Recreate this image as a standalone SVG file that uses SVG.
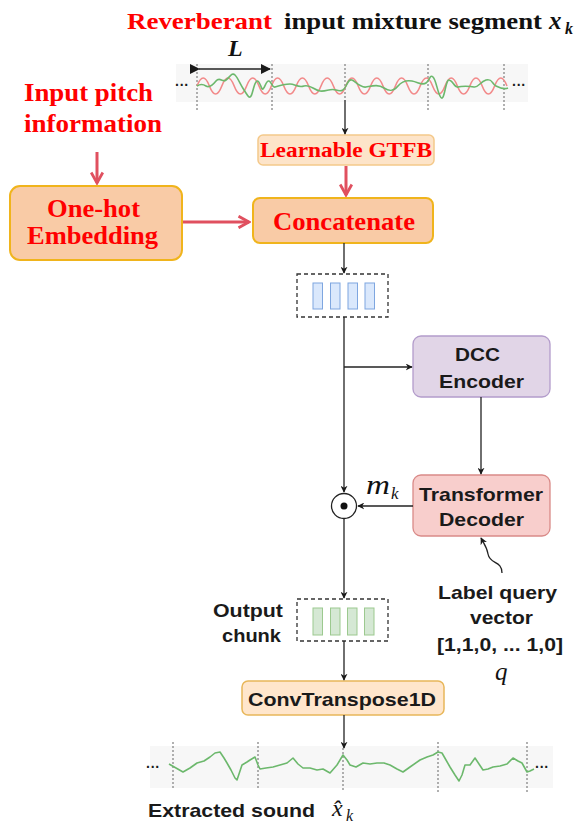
<svg xmlns="http://www.w3.org/2000/svg" width="577" height="823" viewBox="0 0 577 823">
<defs>
<marker id="ah" viewBox="0 0 10 10" refX="9" refY="5" markerWidth="7" markerHeight="7" orient="auto" markerUnits="userSpaceOnUse">
<path d="M0,0 L10,5 L0,10 L3,5 Z" fill="#1a1a1a"/>
</marker>
<marker id="ahr" viewBox="0 0 12 12" refX="10" refY="6" markerWidth="14" markerHeight="14" orient="auto" markerUnits="userSpaceOnUse">
<path d="M1,1 L10,6 L1,11" fill="none" stroke="#e0505f" stroke-width="2.4" stroke-linejoin="miter"/>
</marker>
<marker id="ahd" viewBox="0 0 10 10" refX="9" refY="5" markerWidth="10" markerHeight="10" orient="auto" markerUnits="userSpaceOnUse">
<path d="M0,0 L10,5 L0,10 Z" fill="#1a1a1a"/>
</marker>
</defs>
<style>
.serifR{font-family:"Liberation Serif","Times New Roman",serif;font-weight:bold;fill:#ff0000}
.serifK{font-family:"Liberation Serif","Times New Roman",serif;font-weight:bold;fill:#111}
.sans{font-family:"Liberation Sans",Arial,sans-serif;font-weight:bold;fill:#1a1a1a}
.math{font-family:"Liberation Serif","Times New Roman",serif;font-style:italic;fill:#111}
.ln{stroke:#222;stroke-width:1.3;fill:none}
.red{stroke:#e0505f;stroke-width:3;fill:none}
.dot{stroke:#888;stroke-width:1.3;stroke-dasharray:2,2;fill:none}
.orange{fill:#f9cba6;stroke:#f0b41c;stroke-width:2}
.band{fill:#f7f7f7}
</style>

<g id="title">
<text x="127" y="29" font-size="24" class="serifR" textLength="145" lengthAdjust="spacingAndGlyphs">Reverberant</text>
<text x="284" y="29" font-size="24" class="serifK" textLength="258" lengthAdjust="spacingAndGlyphs">input mixture segment</text>
<text x="549" y="29" font-size="25" class="math" font-weight="bold">x</text>
<text x="565" y="34" font-size="16" class="math" font-weight="bold">k</text>
</g>

<g id="input-wave">
<rect class="band" x="176" y="64" width="352" height="38"/>
<text x="175" y="90" font-size="14" class="sans" fill="#333">···</text>
<text x="512" y="90" font-size="14" class="sans" fill="#333">···</text>
<line class="dot" x1="197" y1="64" x2="197" y2="110"/>
<line class="dot" x1="272" y1="64" x2="272" y2="110"/>
<line class="dot" x1="345" y1="64" x2="345" y2="100"/>
<line class="dot" x1="428" y1="64" x2="428" y2="110"/>
<line class="dot" x1="504" y1="64" x2="504" y2="110"/>
<path d="M197,86 q6.2,-16 12.4,0 t12.4,0 t12.4,0 t12.4,0 t12.4,0 t12.4,0 t12.4,0 t12.4,0 t12.4,0 t12.4,0 t12.4,0 t12.4,0 t12.4,0 t12.4,0 t12.4,0 t12.4,0 t12.4,0 t12.4,0 t12.4,0 t12.4,0 t12.4,0 t12.4,0 t12.4,0 t12.4,0 t12.4,0" fill="none" stroke="#f28a8a" stroke-width="1.6"/>
<path d="M197,86 C200,84 203,84 206,86 S212,86 216,81 S222,83 226,80 S232,72 235,75 S240,84 244,90 S249,99 251,96 S254,82 257,81 S261,90 263,89 S266,80 269,81 S272,88 275,87 S285,84 290,84 S298,88 304,86 S314,90 320,91 S330,88 336,90 S344,90 346,86 S349,79 352,80 S360,88 366,87 S378,84 384,88 S394,91 398,86 S406,80 412,81 S422,86 426,83 S430,74 433,77 S437,90 440,96 S444,94 446,86 S449,80 451,81 S455,88 458,87 S470,86 474,87 S480,82 486,80 S492,84 496,86 S504,90 508,88" fill="none" stroke="#6cb86c" stroke-width="1.6"/>
</g>

<g id="L-label">
<text x="228" y="56" font-size="24" class="math" font-weight="bold">L</text>
<line x1="199" y1="69" x2="270" y2="69" stroke="#222" stroke-width="1.3" marker-start="url(#ahd)" marker-end="url(#ahd)"/>
</g>

<g id="pitch-label">
<text x="24" y="101" font-size="25" class="serifR" textLength="129" lengthAdjust="spacingAndGlyphs">Input pitch</text>
<text x="24" y="132" font-size="25" class="serifR" textLength="138" lengthAdjust="spacingAndGlyphs">information</text>
</g>

<g id="gtfb">
<rect x="258" y="135" width="176" height="30" rx="5" fill="#fde4c9" stroke="#f4c98a" stroke-width="1.5"/>
<text x="260" y="157" font-size="21" class="serifR" textLength="172" lengthAdjust="spacingAndGlyphs">Learnable GTFB</text>
</g>

<g id="onehot">
<rect class="orange" x="10" y="186" width="172" height="74" rx="10"/>
<text x="47" y="217" font-size="26" class="serifR" textLength="93" lengthAdjust="spacingAndGlyphs">One-hot</text>
<text x="27" y="244" font-size="26" class="serifR" textLength="131" lengthAdjust="spacingAndGlyphs">Embedding</text>
</g>

<g id="concat">
<rect class="orange" x="253" y="198" width="180" height="45" rx="7"/>
<text x="273" y="230" font-size="26" class="serifR" textLength="142" lengthAdjust="spacingAndGlyphs">Concatenate</text>
</g>

<g id="input-chunk">
<rect x="297" y="274" width="91" height="43" fill="none" stroke="#333" stroke-width="1.3" stroke-dasharray="4,3"/>
<rect x="313" y="283" width="9.5" height="26" fill="#dae8fc" stroke="#7ea6e0"/>
<rect x="330.5" y="283" width="9.5" height="26" fill="#dae8fc" stroke="#7ea6e0"/>
<rect x="348" y="283" width="9.5" height="26" fill="#dae8fc" stroke="#7ea6e0"/>
<rect x="365" y="283" width="9.5" height="26" fill="#dae8fc" stroke="#7ea6e0"/>
</g>

<g id="dcc">
<rect x="413" y="336" width="137" height="61" rx="8" fill="#e1d5e7" stroke="#b39ccb" stroke-width="1.3"/>
<text x="455" y="361" font-size="19" class="sans" textLength="45" lengthAdjust="spacingAndGlyphs">DCC</text>
<text x="439" y="388" font-size="19" class="sans" textLength="85" lengthAdjust="spacingAndGlyphs">Encoder</text>
</g>

<g id="transformer">
<rect x="413" y="475" width="137" height="61" rx="8" fill="#f8cecc" stroke="#d98a88" stroke-width="1.3"/>
<text x="419" y="501" font-size="19" class="sans" textLength="124" lengthAdjust="spacingAndGlyphs">Transformer</text>
<text x="439" y="526" font-size="19" class="sans" textLength="85" lengthAdjust="spacingAndGlyphs">Decoder</text>
</g>

<g id="mult">
<circle cx="344" cy="506" r="12.5" fill="#fff" stroke="#222" stroke-width="1.3"/>
<circle cx="344" cy="506" r="3.5" fill="#111"/>
</g>

<g id="mk-label">
<text x="366" y="494" font-size="27" class="math" textLength="24" lengthAdjust="spacingAndGlyphs">m</text>
<text x="391" y="499" font-size="17" class="math">k</text>
</g>

<g id="output-chunk">
<rect x="297" y="599" width="91" height="42" fill="none" stroke="#333" stroke-width="1.3" stroke-dasharray="4,3"/>
<rect x="313" y="608" width="9.5" height="27" fill="#d5e8d4" stroke="#9cc98f"/>
<rect x="330.5" y="608" width="9.5" height="27" fill="#d5e8d4" stroke="#9cc98f"/>
<rect x="347.5" y="608" width="9.5" height="27" fill="#d5e8d4" stroke="#9cc98f"/>
<rect x="364.5" y="608" width="9.5" height="27" fill="#d5e8d4" stroke="#9cc98f"/>
<text x="213" y="617" font-size="19" class="sans" textLength="70" lengthAdjust="spacingAndGlyphs">Output</text>
<text x="222" y="642" font-size="19" class="sans" textLength="59" lengthAdjust="spacingAndGlyphs">chunk</text>
</g>

<g id="query-label">
<text x="438" y="599" font-size="19" class="sans" textLength="119" lengthAdjust="spacingAndGlyphs">Label query</text>
<text x="470" y="624" font-size="19" class="sans" textLength="63" lengthAdjust="spacingAndGlyphs">vector</text>
<text x="437" y="651" font-size="19" class="sans" textLength="126" lengthAdjust="spacingAndGlyphs">[1,1,0, ... 1,0]</text>
<text x="495" y="680" font-size="25" class="math">q</text>
</g>

<g id="convt">
<rect x="242" y="681" width="202" height="34" rx="6" fill="#ffe6cc" stroke="#e8b75a" stroke-width="1.5"/>
<text x="248" y="706" font-size="19" class="sans" textLength="188" lengthAdjust="spacingAndGlyphs">ConvTranspose1D</text>
</g>

<g id="output-wave">
<rect class="band" x="150" y="746" width="403" height="42"/>
<text x="146" y="772" font-size="14" class="sans" fill="#333">···</text>
<text x="535" y="772" font-size="14" class="sans" fill="#333">···</text>
<line class="dot" x1="173" y1="742" x2="173" y2="790"/>
<line class="dot" x1="258" y1="742" x2="258" y2="790"/>
<line class="dot" x1="343" y1="748" x2="343" y2="792"/>
<line class="dot" x1="438" y1="742" x2="438" y2="792"/>
<line class="dot" x1="527" y1="742" x2="527" y2="792"/>
<path d="M169,764 L176,768 L183,772 L190,768 L197,763 L204,761 L210,757 L215,753 L220,752 L224,758 L227,763 L231,770 L235,778 L237,780 L240,771 L242,765 L247,762 L250,760 L255,757 L258,765 L260,769 L266,768 L273,767 L280,765 L287,763 L293,758 L298,764 L303,768 L310,768 L317,770 L323,769 L330,773 L337,765 L343,755 L347,760 L350,765 L356,767 L363,763 L370,764 L377,763 L384,763 L390,765 L397,769 L403,772 L410,767 L420,760 L427,757 L433,755 L438,752 L442,753 L446,760 L450,767 L455,775 L459,781 L462,775 L465,765 L470,765 L475,758 L479,764 L483,770 L488,769 L493,767 L500,766 L507,764 L513,758 L518,761 L522,763 L527,772 L530,771 L534,769" fill="none" stroke="#6cb86c" stroke-width="1.6" stroke-linejoin="round"/>
<text x="148" y="817" font-size="19" class="sans" textLength="167" lengthAdjust="spacingAndGlyphs">Extracted sound</text>
<text x="332" y="816" font-size="24" class="math">x&#x302;</text>
<text x="346" y="821" font-size="16" class="math">k</text>
</g>

<g id="connectors">
<line class="ln" x1="345" y1="100" x2="345" y2="134" marker-end="url(#ah)"/>
<line class="red" x1="346" y1="166" x2="346" y2="195" marker-end="url(#ahr)"/>
<line class="red" x1="97" y1="152" x2="97" y2="183" marker-end="url(#ahr)"/>
<line class="red" x1="183" y1="222" x2="249" y2="222" marker-end="url(#ahr)"/>
<line class="ln" x1="344" y1="243" x2="344" y2="273" marker-end="url(#ah)"/>
<line class="ln" x1="344" y1="317" x2="344" y2="492" marker-end="url(#ah)"/>
<line class="ln" x1="344" y1="367" x2="412" y2="367" marker-end="url(#ah)"/>
<line class="ln" x1="481" y1="397" x2="481" y2="474" marker-end="url(#ah)"/>
<line class="ln" x1="413" y1="506" x2="358" y2="506" marker-end="url(#ah)"/>
<line class="ln" x1="344" y1="519" x2="344" y2="598" marker-end="url(#ah)"/>
<line class="ln" x1="344" y1="641" x2="344" y2="680" marker-end="url(#ah)"/>
<line class="ln" x1="344" y1="715" x2="344" y2="748" marker-end="url(#ah)"/>
<path class="ln" d="M502,573 C502,560 490,565 488,554 C487,547 484,544 481,538" marker-end="url(#ah)"/>
</g>
</svg>
